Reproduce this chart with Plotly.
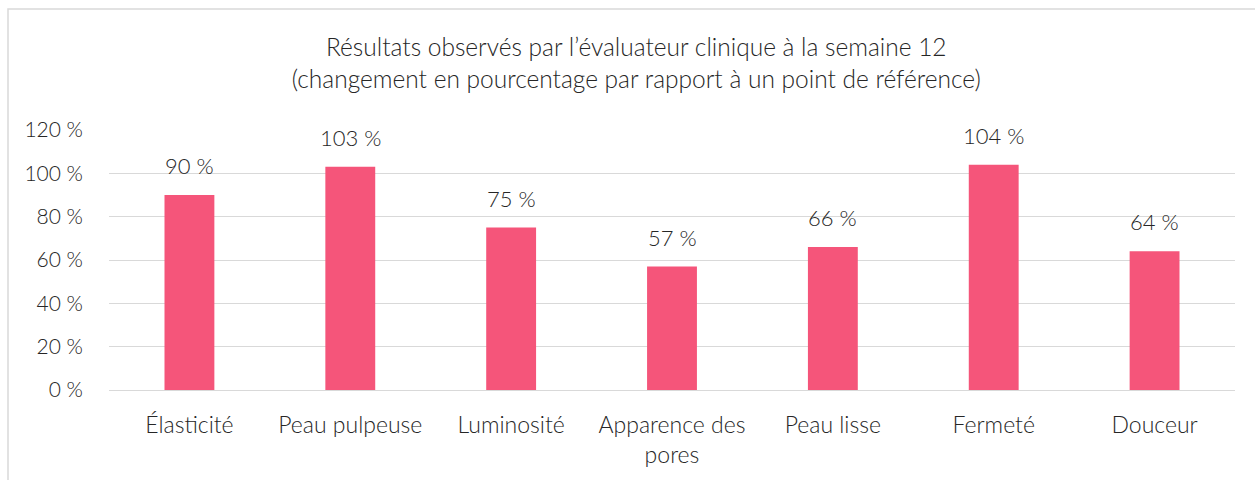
import plotly.graph_objects as go

categories = ["Élasticité", "Peau pulpeuse", "Luminosité", "Apparence des<br>pores",
              "Peau lisse", "Fermeté", "Douceur"]
values = [90, 103, 75, 57, 66, 104, 64]
tick_vals = [0, 20, 40, 60, 80, 100, 120]
tick_text = [f"{v} %" for v in tick_vals]
labels = [f"{v} %" for v in values]

FONT = "Lato"
TXT = "#262626"

fig = go.Figure(go.Bar(
    x=categories, y=values,
    marker=dict(color="#F5557A", line=dict(width=0)),
    width=0.31, hoverinfo="x+y",
))

for c, v, t in zip(categories, values, labels):
    fig.add_annotation(x=c, y=v, text=t, showarrow=False, yanchor="bottom", yshift=14,
                       font=dict(family=FONT, size=22, color=TXT, weight=300))

fig.update_layout(
    width=1255, height=480,
    margin=dict(l=109, r=20, t=130, b=90),
    paper_bgcolor="white", plot_bgcolor="white",
    showlegend=False,
    title=dict(
        text="Résultats observés par l’évaluateur clinique à la semaine 12<br>(changement en pourcentage par rapport à un point de référence)",
        x=0.507, xanchor="center", y=1 - 56/480, yanchor="top", yref="container",
        font=dict(family=FONT, size=24.5, color=TXT, weight=300),
    ),
    font=dict(family=FONT, size=22, color=TXT, weight=300),
    shapes=[dict(type="rect", xref="paper", yref="paper",
                 x0=(8 - 109) / 1126, x1=1.03, y0=-0.4, y1=(390 - 9) / 260,
                 line=dict(color="#d9d9d9", width=1.5), layer="below")],
)
fig.update_xaxes(showgrid=False, showline=False, ticks="", ticklabelstandoff=19,
                 tickfont=dict(size=23, family=FONT, color=TXT, weight=300))
fig.update_yaxes(range=[0, 120], tickvals=tick_vals, ticktext=tick_text,
                 showgrid=True, gridcolor="#d9d9d9", gridwidth=1.3,
                 zeroline=True, zerolinecolor="#d9d9d9", zerolinewidth=1.3,
                 showline=False, ticks="", ticklabelstandoff=25,
                 tickfont=dict(size=21, family=FONT, color=TXT, weight=300))

fig.write_html("out.html")
